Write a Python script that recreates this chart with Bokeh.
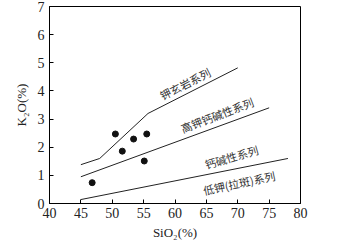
from bokeh.plotting import figure
from bokeh.models import Label, FixedTicker
from bokeh.embed import file_html
from bokeh.resources import INLINE
import math

# Boundary lines (SiO2, K2O)
shoshonite_x = [45, 48, 55.7, 70]
shoshonite_y = [1.38, 1.6, 3.2, 4.82]
highk_x = [45, 75]
highk_y = [0.95, 3.4]
calcalk_x = [45, 78]
calcalk_y = [0.14, 1.6]

# Sample points
sio2 = [46.8, 50.5, 51.6, 53.4, 55.5, 55.1]
k2o = [0.74, 2.47, 1.86, 2.29, 2.47, 1.51]

# Series labels: text, x, y, angle(deg)
series_text = ["钾玄岩系列", "高钾钙碱性系列", "钙碱性系列", "低钾(拉斑)系列"]
series_x = [61.6, 66.7, 69.0, 70.2]
series_y = [4.26, 3.15, 1.66, 0.74]
series_ang = [27, 21, 16, 12]

x_ticks = [40, 45, 50, 55, 60, 65, 70, 75, 80]
y_ticks = [0, 1, 2, 3, 4, 5, 6, 7]

p = figure(width=348, height=242, x_range=(40, 80), y_range=(0, 7),
           output_backend="svg", toolbar_location=None,
           min_border_left=49, min_border_right=48, min_border_top=6, min_border_bottom=36)
p.background_fill_color = "white"
p.outline_line_color = "black"
p.outline_line_width = 1
p.grid.visible = False

for ax in (p.xaxis, p.yaxis):
    ax.major_tick_in = 4
    ax.major_tick_out = 0
    ax.minor_tick_line_color = None
    ax.axis_line_color = "black"
    ax.major_label_text_font = "Liberation Serif"
    ax.major_label_text_font_size = "14px"
    ax.major_label_text_line_height = 0.9
    ax.major_label_text_color = "#222222"
    ax.axis_label_text_font = "Liberation Serif"
    ax.axis_label_text_font_size = "13px"
    ax.axis_label_text_line_height = 0.9
    ax.axis_label_text_font_style = "normal"
    ax.axis_label_text_color = "#222222"

p.xaxis.ticker = FixedTicker(ticks=x_ticks)
p.yaxis.ticker = FixedTicker(ticks=y_ticks)
p.xaxis.axis_label = "SiO₂(%)"
p.yaxis.axis_label = "K₂O(%)"
p.xaxis.axis_label_standoff = 4
p.yaxis.axis_label_standoff = 6
p.xaxis.major_label_standoff = 4
p.yaxis.major_label_standoff = 5

for xs, ys in ((shoshonite_x, shoshonite_y), (highk_x, highk_y), (calcalk_x, calcalk_y)):
    p.line(xs, ys, line_color="#222222", line_width=1)

p.scatter(sio2, k2o, size=6, color="#111111")

for t, x, y, a in zip(series_text, series_x, series_y, series_ang):
    p.add_layout(Label(x=x, y=y, text=t, angle=math.radians(a),
                       text_font="Noto Sans CJK SC", text_font_size="11px",
                       text_color="#333333", text_align="center", text_baseline="middle"))

open("out.html", "w").write(file_html(p, INLINE))
